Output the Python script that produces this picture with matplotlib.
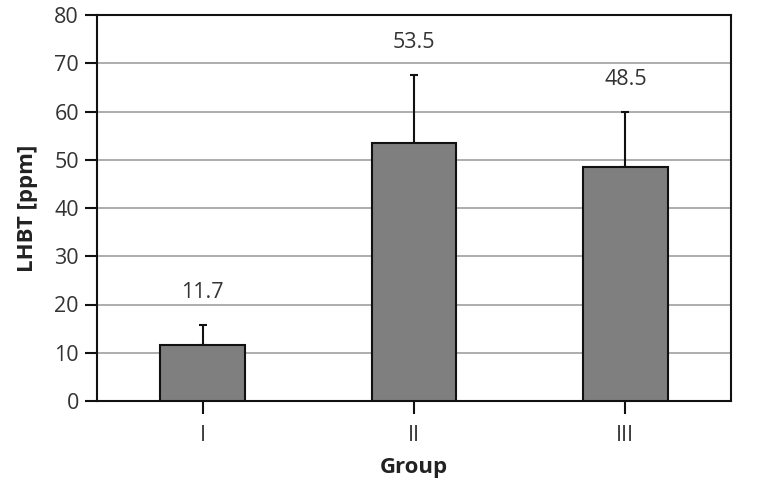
import matplotlib.pyplot as plt

plt.rcParams['font.family'] = ['Open Sans', 'DejaVu Sans']

groups = ["I", "II", "III"]
means = [11.7, 53.5, 48.5]
sd_upper = [4.1, 14.1, 11.4]
y_ticks = [0, 10, 20, 30, 40, 50, 60, 70, 80]

fig = plt.figure(figsize=(7.57, 4.84), dpi=100)
ax = fig.add_axes([97 / 757, 1 - 401 / 484, 634 / 757, 386 / 484])

x = list(range(len(groups)))
ax.bar(x, means, width=0.4, color="#7f7f7f", edgecolor="#111111",
       linewidth=1.5, zorder=3)
ax.errorbar(x, means, yerr=[[0] * len(means), sd_upper], fmt="none",
            ecolor="#111111", elinewidth=1.5, capsize=3, capthick=1.5, zorder=2)

for xi, m, s in zip(x, means, sd_upper):
    ax.annotate(f"{m}", (xi, m + s), xytext=(0, 16), textcoords="offset points",
                ha="center", va="bottom", fontsize=15.5, color="#333333")

ax.set_xlim(-0.5, 2.5)
ax.set_ylim(0, 80)
ax.set_yticks(y_ticks)
ax.set_xticks(x)
ax.set_xticklabels(groups)
ax.yaxis.grid(True, color="#a0a0a0", linewidth=1.2, zorder=0)
ax.set_axisbelow(True)
for side in ["left", "right", "top", "bottom"]:
    ax.spines[side].set_color("#111111")
    ax.spines[side].set_linewidth(1.5)
ax.tick_params(axis="both", direction="out", length=9, width=1.5,
               color="#111111", labelsize=15.5, labelcolor="#333333", pad=4)
ax.tick_params(axis="x", pad=8)

ax.set_ylabel("LHBT [ppm]", fontsize=16, fontweight="bold", color="#222222",
              labelpad=12)
ax.set_xlabel("Group", fontsize=16, fontweight="bold", color="#222222",
              labelpad=8)

fig.savefig("out.png", dpi=100)
